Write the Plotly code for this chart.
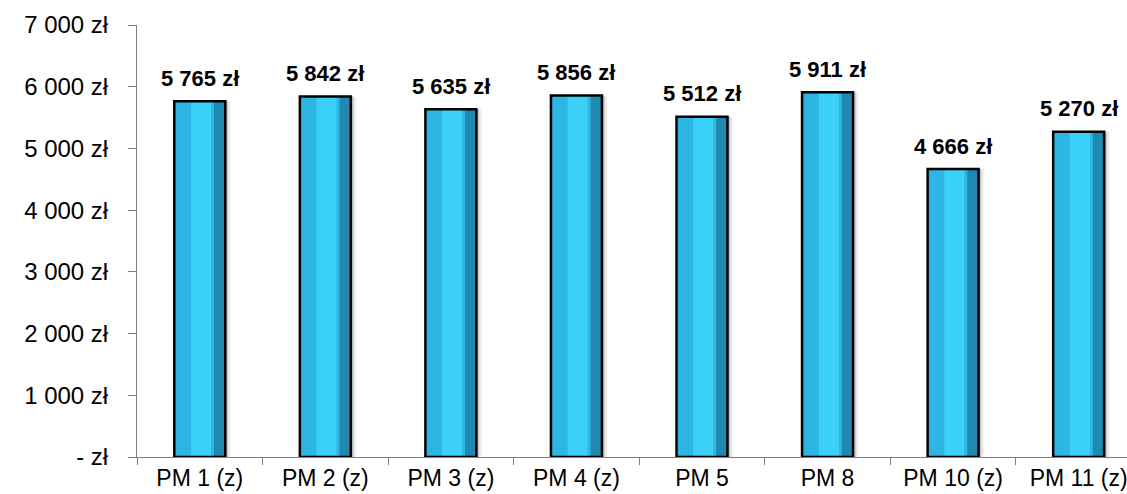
import plotly.graph_objects as go

categories = ["PM 1 (z)", "PM 2 (z)", "PM 3 (z)", "PM 4 (z)", "PM 5", "PM 8", "PM 10 (z)", "PM 11 (z)"]
values = [5765, 5842, 5635, 5856, 5512, 5911, 4666, 5270]
ytick_vals = [0, 1000, 2000, 3000, 4000, 5000, 6000, 7000]
ytick_text = ["- zł", "1 000 zł", "2 000 zł", "3 000 zł", "4 000 zł", "5 000 zł", "6 000 zł", "7 000 zł"]


def fmt(v):
    return f"{v:,}".replace(",", " ") + " zł"


labels = [fmt(v) for v in values]

W = 0.406
fig = go.Figure()
# shadow
fig.add_trace(go.Bar(x=categories, y=values, width=W, offset=-W / 2 + 0.04,
                     marker=dict(color="rgba(0,0,0,0.08)", line=dict(width=0)), hoverinfo="skip"))
fig.add_trace(go.Bar(x=categories, y=values, width=W, offset=-W / 2 + 0.022,
                     marker=dict(color="rgba(0,0,0,0.16)", line=dict(width=0)), hoverinfo="skip"))
# main fill
fig.add_trace(go.Bar(x=categories, y=values, width=W, offset=-W / 2,
                     marker=dict(color="#2DB6E3", line=dict(width=0)), hoverinfo="skip"))
# light center strip
fig.add_trace(go.Bar(x=categories, y=values, width=0.16, offset=-0.07,
                     marker=dict(color="#3AD0F7", line=dict(width=0)), hoverinfo="skip"))
# dark right strip
fig.add_trace(go.Bar(x=categories, y=values, width=0.09, offset=W / 2 - 0.09,
                     marker=dict(color="#2089AF", line=dict(width=0)), hoverinfo="skip"))
# outline
fig.add_trace(go.Bar(x=categories, y=values, width=W, offset=-W / 2,
                     marker=dict(color="rgba(0,0,0,0)", line=dict(color="#000000", width=2.5)),
                     hoverinfo="skip"))

for c, v, t in zip(categories, values, labels):
    fig.add_annotation(x=c, y=v, text=f"<b>{t}</b>", showarrow=False, yshift=23,
                       font=dict(family="Liberation Sans, Arial, sans-serif", size=22, color="#000000"))

fig.update_layout(
    width=1127, height=494,
    margin=dict(l=137, r=0, t=25, b=37),
    paper_bgcolor="white", plot_bgcolor="white",
    barmode="overlay", showlegend=False,
    font=dict(family="Liberation Sans, Arial, sans-serif", size=23, color="#000000"),
)
fig.update_xaxes(range=[-0.5, 7.385], showline=True, linecolor="#808080", linewidth=1,
                 ticks="outside", tickson="boundaries", ticklen=7, tickcolor="#808080",
                 showgrid=False, tickfont=dict(size=23), fixedrange=True, automargin=False)
fig.update_yaxes(range=[0, 7000], tickvals=ytick_vals, ticktext=ytick_text,
                 showline=True, linecolor="#808080", linewidth=1,
                 ticks="outside", ticklen=8, tickcolor="#808080", showgrid=False,
                 ticklabelstandoff=15,
                 zeroline=False, tickfont=dict(size=24), fixedrange=True, automargin=False)

fig.write_html("out.html", config={"displayModeBar": False},
               post_script="document.body.style.margin='0';document.body.style.overflow='hidden';")
